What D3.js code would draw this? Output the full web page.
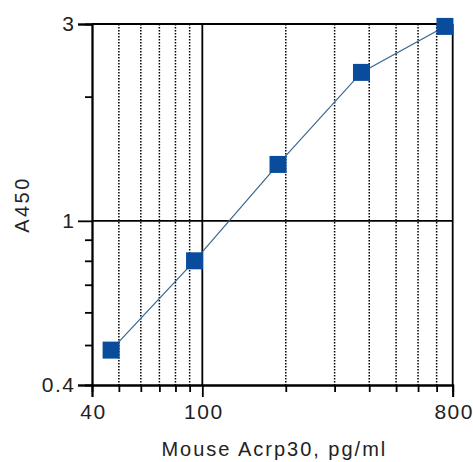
<!DOCTYPE html>
<html>
<head>
<meta charset="utf-8">
<script src="https://cdn.jsdelivr.net/npm/d3@7"></script>
<style>
  body { margin: 0; background: #fff; }
  svg { display: block; }
  text { font-family: "Liberation Sans", Arial, sans-serif; fill: #222; }
</style>
</head>
<body>
<svg id="canvas"></svg>
<script>
const width = 473;
const height = 462;

// standard curve data
const concentrations = [46.875, 93.75, 187.5, 375, 750];
const absorbance = [0.486, 0.80, 1.37, 2.29, 2.96];

// ticks
const xMajor = [40, 100, 800];
const xMinor = [50, 60, 70, 80, 90, 200, 300, 400, 500, 600, 700];
const yMajor = [0.4, 1, 3];
const yMinor = [0.5, 0.6, 0.7, 0.8, 0.9, 2];

const xTitle = 'Mouse Acrp30, pg/ml';
const yTitle = 'A450';

const plotLeft = 92;
const plotRight = 452.7;
const plotTop = 24;
const plotBottom = 385;

const svg = d3.select('#canvas').attr('width', width).attr('height', height);

const x = d3.scaleLog().domain([40, 800]).range([plotLeft, plotRight]);
const y = d3.scaleLog().domain([0.4, 3]).range([plotBottom, plotTop]);

// dotted grid lines
svg.append('g')
  .selectAll('line')
  .data(xMinor)
  .enter()
  .append('line')
  .attr('x1', (d) => x(d))
  .attr('x2', (d) => x(d))
  .attr('y1', plotTop)
  .attr('y2', plotBottom)
  .attr('stroke', '#000')
  .attr('stroke-width', 1.5)
  .attr('stroke-dasharray', '1.5,1.5');

// solid grid lines at decades
svg.append('line')
  .attr('x1', x(100)).attr('x2', x(100))
  .attr('y1', plotTop).attr('y2', plotBottom)
  .attr('stroke', '#000').attr('stroke-width', 1.8);
svg.append('line')
  .attr('x1', plotLeft).attr('x2', plotRight)
  .attr('y1', y(1)).attr('y2', y(1))
  .attr('stroke', '#000').attr('stroke-width', 1.8);

// frame top + right
svg.append('line')
  .attr('x1', plotLeft).attr('x2', plotRight)
  .attr('y1', plotTop).attr('y2', plotTop)
  .attr('stroke', '#000').attr('stroke-width', 1.8);
svg.append('line')
  .attr('x1', plotRight).attr('x2', plotRight)
  .attr('y1', plotTop).attr('y2', plotBottom)
  .attr('stroke', '#000').attr('stroke-width', 1.8);

// x axis
const xAxis = d3.axisBottom(x).tickValues(xMajor).tickFormat(d3.format('d'))
  .tickSize(12).tickPadding(7);
const xAxisMinor = d3.axisBottom(x).tickValues(xMinor).tickFormat('').tickSize(7);
const xg = svg.append('g').attr('transform', `translate(0, ${plotBottom})`).call(xAxis);
svg.append('g').attr('transform', `translate(0, ${plotBottom})`).call(xAxisMinor);

// y axis
const yAxis = d3.axisLeft(y).tickValues(yMajor).tickFormat((d) => (d < 1 ? d3.format('.1f')(d) : d))
  .tickSize(14).tickPadding(4);
const yAxisMinor = d3.axisLeft(y).tickValues(yMinor).tickFormat('').tickSize(7);
const yg = svg.append('g').attr('transform', `translate(${plotLeft}, 0)`).call(yAxis);
svg.append('g').attr('transform', `translate(${plotLeft}, 0)`).call(yAxisMinor);

svg.selectAll('.domain').attr('stroke', '#000').attr('stroke-width', 1.8);
svg.selectAll('.tick line').attr('stroke', '#000').attr('stroke-width', 1.8);
svg.selectAll('.tick text')
  .attr('fill', '#222')
  .style('font-family', '"Liberation Sans", Arial, sans-serif')
  .style('font-size', '21px')
  .style('letter-spacing', '1.5px');
yg.selectAll('.tick text').attr('dx', '1.5px');
xg.selectAll('.tick text').attr('dx', '1px');

// connecting line
const points = concentrations.map((c, i) => [c, absorbance[i]]);
svg.append('path')
  .datum(points)
  .attr('fill', 'none')
  .attr('stroke', '#36668f')
  .attr('stroke-width', 1.2)
  .attr('d', d3.line().x((d) => x(d[0])).y((d) => y(d[1])));

// square markers
const sq = 17;
svg.append('g')
  .selectAll('rect')
  .data(points)
  .enter()
  .append('rect')
  .attr('x', (d) => x(d[0]) - sq / 2)
  .attr('y', (d) => y(d[1]) - sq / 2)
  .attr('width', sq)
  .attr('height', sq)
  .attr('fill', '#0a4c9c');

// axis titles
svg.append('text')
  .attr('x', (plotLeft + plotRight) / 2 + 2)
  .attr('y', 456)
  .attr('text-anchor', 'middle')
  .style('font-size', '20px')
  .style('letter-spacing', '2px')
  .text(xTitle);

svg.append('text')
  .attr('transform', `translate(29, ${(plotTop + plotBottom) / 2}) rotate(-90)`)
  .attr('text-anchor', 'middle')
  .style('font-size', '20px')
  .style('letter-spacing', '2.5px')
  .text(yTitle);
</script>
</body>
</html>
